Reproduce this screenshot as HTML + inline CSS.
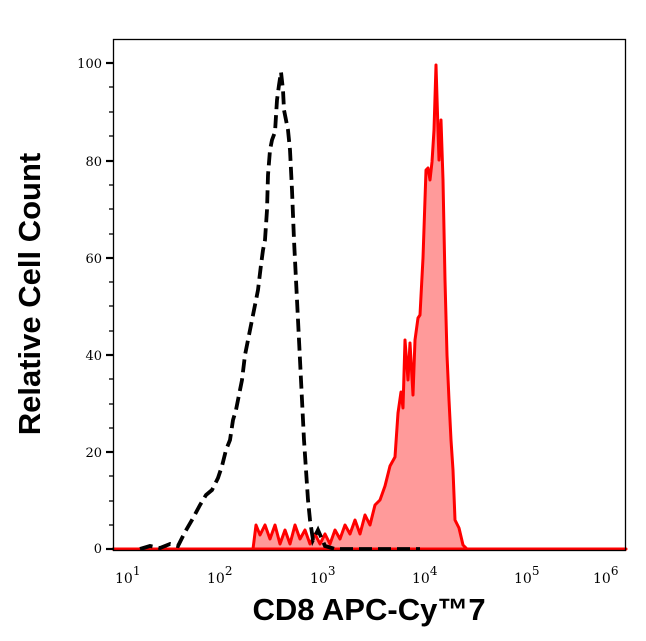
<!DOCTYPE html>
<html><head><meta charset="utf-8"><style>
html,body{margin:0;padding:0;background:#fff;}
svg{display:block;}
</style></head><body>
<svg width="646" height="641" viewBox="0 0 646 641" xmlns="http://www.w3.org/2000/svg">
<rect width="646" height="641" fill="#fff"/>
<path fill="#ff9a9a" stroke="#ff0000" stroke-width="3" stroke-linejoin="round" d="M113,549 L253,549 L256,525 L260,535 L265,525 L270,539 L275,525 L280,544 L285,530 L290,544 L295,525 L300,539 L305,530 L310,544 L315,534 L320,544 L325,534 L330,544 L335,530 L340,539 L345,525 L350,534 L355,520 L360,534 L365,515 L370,525 L375,505 L380,500 L385,486 L390,466 L395,457 L398,413 L401,392 L403,408 L405,340 L408,380 L410,343 L413,395 L415,340 L418,318 L420,315 L423,258 L426,170 L428,168 L430,180 L432,162 L434,130 L436,65 L438,130 L439,160 L441,120 L443,180 L445,280 L447,355 L449,400 L451,440 L453,470 L455,520 L459,528 L463,545 L467,549 L626,549 Z"/>
<polyline fill="none" stroke="#000" stroke-width="3.8" stroke-dasharray="13,6" points="140,549 150,546 160,548 170,544 178,546 185,532 192,520 200,505 206,495 212,490 218,478 222,466 226,450 230,440 233,420 236,410 239,395 242,380 245,355 248,340 252,320 256,300 258,290 261,265 263,250 265,240 267,210 268,175 270,150 272,140 275,132 277,100 279,85 281,72 283,90 284,110 286,120 288,130 290,150 292,190 294,240 296,280 298,320 300,360 302,400 304,440 306,470 308,500 310,520 313,540 318,530 325,546 335,549 360,549 380,549 400,549 420,549"/>
<rect x="113.5" y="39.5" width="512" height="511" fill="none" stroke="#000" stroke-width="1.3"/>
<g stroke="#000" stroke-width="1.3">
<line x1="106" y1="63" x2="113" y2="63" stroke-width="2.2"/>
<line x1="106" y1="161" x2="113" y2="161" stroke-width="2.2"/>
<line x1="106" y1="258" x2="113" y2="258" stroke-width="2.2"/>
<line x1="106" y1="355" x2="113" y2="355" stroke-width="2.2"/>
<line x1="106" y1="452" x2="113" y2="452" stroke-width="2.2"/>
<line x1="106" y1="549" x2="113" y2="549" stroke-width="2.2"/>
<line x1="109" y1="87" x2="113" y2="87"/><line x1="109" y1="112" x2="113" y2="112"/><line x1="109" y1="136" x2="113" y2="136"/>
<line x1="109" y1="185" x2="113" y2="185"/><line x1="109" y1="209" x2="113" y2="209"/><line x1="109" y1="234" x2="113" y2="234"/>
<line x1="109" y1="282" x2="113" y2="282"/><line x1="109" y1="306" x2="113" y2="306"/><line x1="109" y1="331" x2="113" y2="331"/>
<line x1="109" y1="379" x2="113" y2="379"/><line x1="109" y1="404" x2="113" y2="404"/><line x1="109" y1="428" x2="113" y2="428"/>
<line x1="109" y1="476" x2="113" y2="476"/><line x1="109" y1="501" x2="113" y2="501"/><line x1="109" y1="525" x2="113" y2="525"/>
</g>
<g id="xt" stroke="#000" stroke-width="1.2"></g>
<script>
(function(){var g=document.getElementById('xt'),s='';
for(var d=1;d<=6;d++){var x0=113+(d-1)*102.3;
s+='<line x1="'+x0+'" y1="551" x2="'+x0+'" y2="559" stroke-width="2"/>';
if(d<6)for(var k=2;k<10;k++){var x=x0+Math.log10(k)*102.3;s+='<line x1="'+x+'" y1="551" x2="'+x+'" y2="555"/>';}}
g.innerHTML=s;})();
</script>
<g font-family="DejaVu Serif, serif" font-size="13" fill="#000" text-anchor="end">
<text x="102" y="68">100</text><text x="102" y="166">80</text><text x="102" y="263">60</text>
<text x="102" y="360">40</text><text x="102" y="457">20</text><text x="102" y="553">0</text>
</g>
<g font-family="DejaVu Serif, serif" font-size="14" fill="#000">
<text x="115" y="583">10<tspan dy="-8" font-size="12">1</tspan></text>
<text x="207" y="583">10<tspan dy="-8" font-size="12">2</tspan></text>
<text x="310" y="583">10<tspan dy="-8" font-size="12">3</tspan></text>
<text x="412" y="583">10<tspan dy="-8" font-size="12">4</tspan></text>
<text x="514" y="583">10<tspan dy="-8" font-size="12">5</tspan></text>
<text x="593" y="583">10<tspan dy="-8" font-size="12">6</tspan></text>
</g>
<text x="369" y="620" font-family="Liberation Sans, sans-serif" font-weight="bold" font-size="31" text-anchor="middle">CD8 APC-Cy™7</text>
<text transform="translate(40,294) rotate(-90)" font-family="Liberation Sans, sans-serif" font-weight="bold" font-size="31" text-anchor="middle">Relative Cell Count</text>
</svg>
</body></html>
